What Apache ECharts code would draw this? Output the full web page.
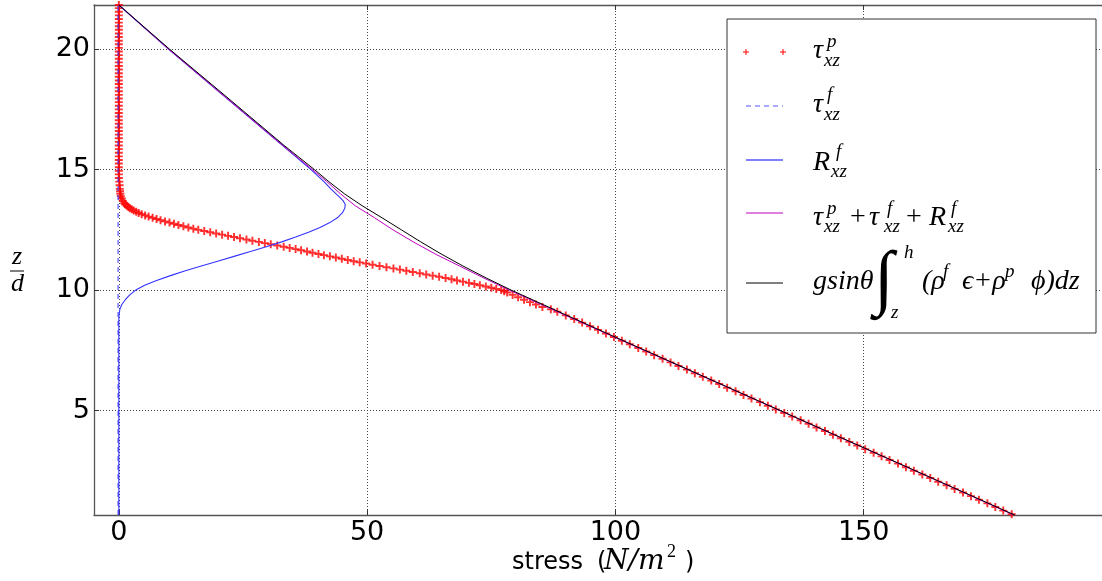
<!DOCTYPE html>
<html>
<head>
<meta charset="utf-8">
<script src="https://cdn.jsdelivr.net/npm/echarts@6/dist/echarts.min.js"></script>
<style>
  html, body { margin: 0; padding: 0; background: #fff; }
  #chart { width: 1102px; height: 581px; }
</style>
</head>
<body>
<div id="chart"></div>
<script>
// [stress, z/d] pairs
const tauP = [
  [179.8, 0.7], [178.1, 0.85], [176.5, 1.0], [174.9, 1.15], [173.2, 1.3], [171.6, 1.45],
  [170.0, 1.6], [168.3, 1.75], [166.7, 1.9], [165.0, 2.05], [163.4, 2.2], [161.8, 2.35],
  [160.1, 2.5], [158.5, 2.65], [156.9, 2.8], [155.2, 2.95], [153.6, 3.1], [152.0, 3.25],
  [150.3, 3.4], [148.7, 3.55], [147.1, 3.7], [145.4, 3.85], [143.8, 4.0], [142.2, 4.15],
  [140.5, 4.3], [138.9, 4.45], [137.3, 4.6], [135.6, 4.75], [134.0, 4.9], [132.3, 5.05],
  [130.7, 5.2], [129.1, 5.35], [127.4, 5.5], [125.8, 5.65], [124.2, 5.8], [122.5, 5.95],
  [120.9, 6.1], [119.3, 6.25], [117.6, 6.4], [116.0, 6.55], [114.4, 6.7], [112.7, 6.85],
  [111.1, 7.0], [109.5, 7.15], [107.8, 7.3], [106.2, 7.45], [104.6, 7.6], [102.9, 7.75],
  [101.3, 7.9], [99.7, 8.05], [98.1, 8.2], [96.5, 8.35], [94.9, 8.5], [93.3, 8.65],
  [91.7, 8.8], [90.0, 8.95], [88.3, 9.1], [87.0, 9.2], [85.3, 9.3], [84.0, 9.4],
  [82.8, 9.5], [81.6, 9.6], [80.4, 9.7], [79.3, 9.8], [78.2, 9.9], [77.6, 9.95],
  [77.0, 10.0], [76.0, 10.05], [75.0, 10.1], [73.9, 10.15], [72.7, 10.2], [71.6, 10.25],
  [70.5, 10.3], [69.3, 10.35], [68.1, 10.4], [67.0, 10.45], [65.8, 10.5], [64.5, 10.55],
  [63.2, 10.6], [61.9, 10.65], [60.6, 10.7], [59.2, 10.75], [57.9, 10.8], [56.6, 10.85],
  [55.3, 10.9], [53.9, 10.95], [52.5, 11.0], [51.1, 11.05], [49.8, 11.1], [48.5, 11.15],
  [47.3, 11.2], [46.1, 11.25], [44.9, 11.3], [43.7, 11.35], [42.5, 11.4], [41.3, 11.45],
  [40.2, 11.5], [39.0, 11.55], [37.9, 11.6], [36.7, 11.65], [35.6, 11.7], [34.4, 11.75],
  [33.2, 11.8], [31.9, 11.85], [30.6, 11.9], [29.4, 11.95], [28.2, 12.0], [26.9, 12.05],
  [25.7, 12.1], [24.4, 12.15], [23.2, 12.2], [22.0, 12.25], [20.8, 12.3], [19.6, 12.35],
  [18.4, 12.4], [17.2, 12.45], [16.0, 12.5], [15.0, 12.55], [14.0, 12.6], [13.0, 12.65],
  [12.0, 12.7], [11.1, 12.75], [10.2, 12.8], [9.3, 12.85], [8.4, 12.9], [7.6, 12.95],
  [6.8, 13.0], [6.0, 13.05], [5.3, 13.1], [4.6, 13.15], [4.0, 13.2], [3.5, 13.25],
  [3.0, 13.3], [2.6, 13.35], [2.2, 13.4], [1.9, 13.45], [1.6, 13.5], [1.3, 13.55],
  [1.1, 13.6], [0.8, 13.7], [0.6, 13.8], [0.4, 13.9], [0.3, 14.0], [0.25, 14.1],
  [0.2, 14.2], [0.15, 14.35], [0.1, 14.5], [0, 14.65], [0, 14.8], [0, 14.95],
  [0, 15.1], [0, 15.25], [0, 15.4], [0, 15.55], [0, 15.7], [0, 15.85], [0, 16.0],
  [0, 16.15], [0, 16.3], [0, 16.45], [0, 16.6], [0, 16.75], [0, 16.9], [0, 17.05],
  [0, 17.2], [0, 17.35], [0, 17.5], [0, 17.65], [0, 17.8], [0, 17.95], [0, 18.1],
  [0, 18.25], [0, 18.4], [0, 18.55], [0, 18.7], [0, 18.85], [0, 19.0], [0, 19.15],
  [0, 19.3], [0, 19.45], [0, 19.6], [0, 19.75], [0, 19.9], [0, 20.05], [0, 20.2],
  [0, 20.35], [0, 20.5], [0, 20.65], [0, 20.8], [0, 20.95], [0, 21.1], [0, 21.25],
  [0, 21.4], [0, 21.55], [0, 21.7], [0, 21.83]
];
const tauF = [[-0.15, 0.667], [-0.15, 21.83]];
const rF = [
  [0, 0.667], [0, 8.9], [0.2, 9.2], [0.6, 9.4], [1.3, 9.6], [2.2, 9.8], [3.4, 10.0],
  [5.2, 10.2], [7.6, 10.4], [10.4, 10.6], [13.4, 10.8], [16.6, 11.0], [19.9, 11.2],
  [23.2, 11.4], [26.5, 11.6], [29.7, 11.8], [32.8, 12.0], [35.6, 12.2], [38.2, 12.4],
  [40.5, 12.6], [42.5, 12.8], [44.0, 13.0], [45.0, 13.2], [45.5, 13.4], [45.6, 13.55],
  [45.2, 13.7], [44.5, 13.85], [43.7, 14.0], [42.7, 14.2], [41.3, 14.5], [38.7, 15.0],
  [33.0, 16.0], [21.5, 18.0], [10.0, 20.0], [0, 21.83]
];
const total = [
  [0, 21.83], [10.0, 20], [21.5, 18], [33.0, 16], [39.0, 15], [41.9, 14.5], [44.6, 14.0],
  [47.6, 13.5], [51.5, 13.0], [55.2, 12.5], [59.3, 12.0], [63.7, 11.5], [68.6, 11.0],
  [73.5, 10.5], [78.6, 10.0], [89.4, 9.0], [100.3, 8.0], [122.2, 6.0], [144.0, 4.0],
  [165.8, 2.0], [180.2, 0.667]
];
const analytic = [
  [0, 21.83], [10.2, 20], [21.8, 18], [33.3, 16], [39.4, 15], [42.3, 14.5], [45.4, 14.0],
  [49.0, 13.5], [53.0, 13.0], [56.9, 12.5], [60.8, 12.0], [64.9, 11.5], [69.3, 11.0],
  [74.0, 10.5], [79.0, 10.0], [89.7, 9.0], [100.5, 8.0], [122.3, 6.0], [144.1, 4.0],
  [165.9, 2.0], [180.4, 0.667]
];
const xTicks = [0, 50, 100, 150];
const yTicks = [5, 10, 15, 20];

const chart = echarts.init(document.getElementById('chart'));

const SANS = '"DejaVu Sans", sans-serif';
const MATH = '"Liberation Serif", serif';
const plusPath = 'path://M3.8,0H6.2V3.8H10V6.2H6.2V10H3.8V6.2H0V3.8H3.8Z';

function txt(x, y, text, size, italic, family) {
  return {
    type: 'text', x: x, y: y, z: 101,
    style: {
      text: text,
      font: (italic ? 'italic ' : '') + size + 'px ' + (family || MATH),
      fill: '#000',
      textAlign: 'left',
      textVerticalAlign: 'middle'
    }
  };
}
function seg(x1, y1, x2, y2, color, width, dash) {
  return {
    type: 'line', z: 101,
    shape: { x1: x1, y1: y1, x2: x2, y2: y2 },
    style: { stroke: color, lineWidth: width, lineDash: dash || null }
  };
}

const legendItems = [
  { type: 'rect', z: 100, shape: { x: 727, y: 19, width: 369, height: 314 },
    style: { fill: '#fff', stroke: '#333', lineWidth: 1 } },
  // row 1: tau^p
  seg(743, 52, 749, 52, '#ff0000', 1), seg(746, 49, 746, 55, '#ff0000', 1),
  seg(780, 52, 786, 52, '#ff0000', 1), seg(783, 49, 783, 55, '#ff0000', 1),
  txt(813, 51, 'τ', 28, true), txt(827, 42, 'p', 19, true), txt(824, 61, 'xz', 19, true),
  // row 2: tau^f
  seg(746, 106, 783, 106, '#5555ff', 1.2, [5, 4]),
  txt(813, 105, 'τ', 28, true), txt(827, 95, 'f', 19, true), txt(824, 115, 'xz', 19, true),
  // row 3: R^f
  seg(746, 160, 783, 160, '#8080ff', 2),
  txt(813, 163, 'R', 28, true), txt(836, 152, 'f', 19, true), txt(831, 172, 'xz', 19, true),
  // row 4: sum
  seg(746, 213, 783, 213, '#bf00bf', 1),
  txt(813, 218, 'τ', 28, true), txt(827, 209, 'p', 19, true), txt(824, 227, 'xz', 19, true),
  txt(850, 218, '+', 28, false),
  txt(869, 218, 'τ', 28, true), txt(887, 209, 'f', 19, true), txt(884, 227, 'xz', 19, true),
  txt(906, 218, '+', 28, false),
  txt(929, 218, 'R', 28, true), txt(951, 209, 'f', 19, true), txt(948, 227, 'xz', 19, true),
  // row 5: analytic
  seg(746, 283, 783, 283, '#000', 1),
  txt(813, 282, 'gsinθ', 28, true),
  txt(874, 282, '∫', 72, false),
  txt(904, 253, 'h', 19, true), txt(891, 313, 'z', 19, true),
  txt(922, 282, '(ρ', 28, true), txt(943, 272, 'f', 19, true),
  txt(962, 282, 'ϵ+ρ', 28, true), txt(1005, 272, 'p', 19, true),
  txt(1031, 282, 'ϕ)dz', 28, true)
];

const axisLabels = [
  // y axis name z/d
  txt(12, 257, 'z', 26, true),
  seg(10, 271, 24, 271, '#000', 1),
  txt(11, 284, 'd', 26, true),
  // x axis name
  txt(512, 563, 'stress', 24, false, SANS),
  txt(597, 563, '(', 24, false, SANS),
  txt(604, 562, 'N/m', 28, true, '"DejaVu Serif", serif'),
  txt(667, 552, '2', 18, false),
  txt(685, 563, ')', 24, false, SANS)
];

const axisLineStyle = { color: '#555', width: 1.3 };
const tickStyle = { show: true, inside: true, length: 5, lineStyle: { color: '#333', width: 1 } };
const gridLine = { show: true, lineStyle: { color: '#444', type: [1, 2], width: 1 } };

chart.setOption({
  animation: false,
  backgroundColor: '#fff',
  grid: { left: 94, right: -10, top: 5, bottom: 66, outerBoundsMode: 'none' },
  xAxis: [
    {
      type: 'value', min: -5, max: 200, position: 'bottom',
      axisLine: { show: true, onZero: false, lineStyle: axisLineStyle },
      axisTick: Object.assign({ customValues: xTicks }, tickStyle),
      axisLabel: { customValues: xTicks, fontSize: 27, color: '#000', fontFamily: SANS, margin: 4 },
      splitLine: gridLine
    },
    {
      type: 'value', min: -5, max: 200, position: 'top',
      axisLine: { show: true, onZero: false, lineStyle: axisLineStyle },
      axisTick: Object.assign({ customValues: xTicks }, tickStyle),
      axisLabel: { show: false },
      splitLine: { show: false }
    }
  ],
  yAxis: {
    type: 'value', min: 0.667, max: 21.83,
    axisLine: { show: true, onZero: false, lineStyle: axisLineStyle },
    axisTick: Object.assign({ customValues: yTicks }, tickStyle),
    axisLabel: { customValues: yTicks, fontSize: 27, color: '#000', fontFamily: SANS, margin: 4 },
    splitLine: gridLine
  },
  series: [
    {
      type: 'scatter', data: tauP, symbol: plusPath, symbolSize: 8,
      itemStyle: { color: '#ff0000' }, silent: true
    },
    {
      type: 'line', data: tauF, showSymbol: false, silent: true,
      lineStyle: { color: '#3030ff', width: 1, type: [5, 4] }
    },
    {
      type: 'line', data: rF, showSymbol: false, silent: true,
      lineStyle: { color: '#3333ff', width: 1.1 }
    },
    {
      type: 'line', data: total, showSymbol: false, silent: true,
      lineStyle: { color: '#bf00bf', width: 1 }
    },
    {
      type: 'line', data: analytic, showSymbol: false, silent: true,
      lineStyle: { color: '#000', width: 1 }
    }
  ],
  graphic: { elements: legendItems.concat(axisLabels) }
});
</script>
</body>
</html>
